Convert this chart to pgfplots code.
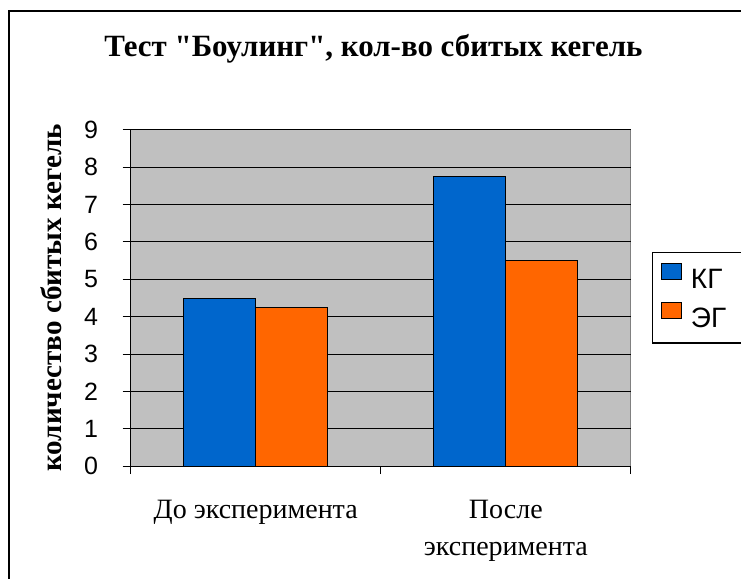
\documentclass[border=0pt]{standalone}
\usepackage{fontspec}
\setmainfont{Liberation Serif}[Ligatures=TeXOff]
\newfontfamily\arial{Liberation Sans}
\usepackage{pgfplots}
\pgfplotsset{compat=1.18}
\definecolor{kg}{HTML}{0066CC}
\definecolor{eg}{HTML}{FF6600}
\definecolor{bgc}{HTML}{C0C0C0}
\begin{document}
\begin{tikzpicture}
\useasboundingbox (0,0) rectangle (555.75pt,433.5pt);
\draw[line width=1.5pt] (7.1pt,-20pt) -- (7.1pt,425.25pt) -- (600pt,425.25pt);
\node[anchor=base, font=\bfseries\fontsize{23.2}{27}\selectfont] at (280.1pt,391pt) {Тест "Боулинг", кол-во сбитых кегель};
\begin{axis}[
  scale only axis, width=375.2pt, height=252pt,
  anchor=south west, at={(98pt,84pt)},
  ybar=0pt, bar width=54pt,
  xmin=-0.5, xmax=1.5, ymin=0, ymax=9,
  axis x line*=bottom, axis y line*=left,
  axis line style={line width=0.75pt, black},
  axis background/.style={fill=bgc, draw=gray, line width=0.75pt},
  tick align=outside, major tick length=6pt,
  tick style={black, line width=0.75pt},
  xtick={-0.5,0.5,1.5}, xticklabels={},
  extra x ticks={0,1},
  extra x tick labels={До эксперимента,{После\\эксперимента}},
  extra x tick style={major tick length=0pt, grid=none},
  xticklabel style={align=center, font=\fontsize{21}{27.75}\selectfont, yshift=-22pt},
  ytick={0,1,...,9},
  ymajorgrids, grid style={black, line width=0.75pt},
  yticklabel style={font=\arial\fontsize{18.75}{20}\selectfont, xshift=-15pt},
  /pgf/number format/assume math mode=true,
  ylabel={количество сбитых кегель},
  ylabel style={at={(axis description cs:-0.159,0.5)}, anchor=center, font=\bfseries\fontsize{21.8}{24}\selectfont},
  legend style={at={(1.042,0.637)}, anchor=north west, draw=black, line width=1pt,
    font=\arial\fontsize{21}{23}\selectfont, inner xsep=6pt, inner ysep=8pt, row sep=7pt,
    /tikz/every odd column/.append style={column sep=5pt}},
  legend cell align=left,
  legend image code/.code={\draw[#1, line width=0.75pt] (0pt,0pt) rectangle (15pt,12pt);},
]
\addplot[fill=kg, draw=black, line width=0.75pt] coordinates {(0,4.5) (1,7.75)};
\addplot[fill=eg, draw=black, line width=0.75pt] coordinates {(0,4.25) (1,5.5)};
\legend{КГ\hspace*{40pt},ЭГ\hspace*{40pt}}
\end{axis}
\end{tikzpicture}
\end{document}
